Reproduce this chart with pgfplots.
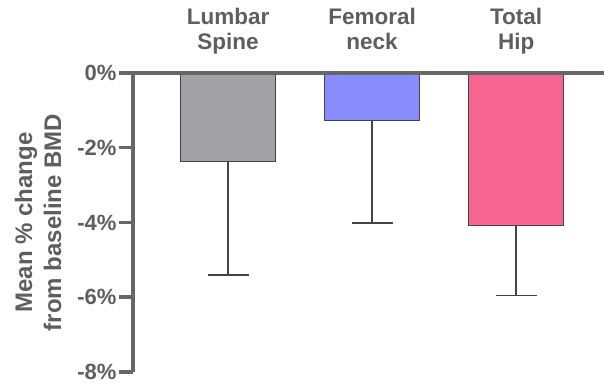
\documentclass[border=0pt]{standalone}
\usepackage{pgfplots}
\pgfplotsset{compat=1.18}
\usepackage{fontspec}
\setmainfont{Liberation Sans}
\definecolor{axgray}{HTML}{676767}
\definecolor{txtgray}{HTML}{5E5E5E}
\definecolor{edgegray}{HTML}{444444}
\definecolor{bargray}{HTML}{A2A1A6}
\definecolor{barblue}{HTML}{8A8BFF}
\definecolor{barpink}{HTML}{F96592}
\begin{document}
\begin{tikzpicture}
\begin{axis}[
  scale only axis, width=471pt, height=299pt,
  xmin=0.34, xmax=3.61, ymin=-8, ymax=0,
  axis x line=top, axis y line=left,
  axis line style={-, line width=4pt, draw=axgray},
  axis on top,
  xtick={1,2,3},
  xticklabels={{Lumbar\\Spine\strut},{Femoral\\neck\strut},{Total\\Hip\strut}},
  x tick style={draw=none},
  xticklabel style={align=center, font=\bfseries\fontsize{22.5}{25}\selectfont, text=txtgray, yshift=-2pt},
  ytick={-8,-6,-4,-2,0},
  yticklabels={-8\%,-6\%,-4\%,-2\%,0\%},
  yticklabel style={font=\bfseries\fontsize{22}{25}\selectfont, text=txtgray, xshift=1pt},
  tick align=outside, major tick length=14pt,
  y tick style={line width=3.5pt, draw=axgray},
  ylabel={Mean \% change\\from baseline BMD},
  ylabel style={align=center, font=\bfseries\fontsize{24}{29}\selectfont, text=txtgray, yshift=9pt},
  bar shift=0pt, bar width=95pt,
]
\addplot[ybar, fill=bargray, draw=edgegray, line width=1.2pt,
  error bars/.cd, y dir=minus, y explicit,
  error bar style={line width=1.4pt, draw=edgegray},
  error mark options={mark size=20.5pt, line width=1.4pt, draw=edgegray, rotate=90}]
  coordinates {(1,-2.36) -= (0,3.04)};
\addplot[ybar, fill=barblue, draw=edgegray, line width=1.2pt,
  error bars/.cd, y dir=minus, y explicit,
  error bar style={line width=1.4pt, draw=edgegray},
  error mark options={mark size=20.5pt, line width=1.4pt, draw=edgegray, rotate=90}]
  coordinates {(2,-1.28) -= (0,2.73)};
\addplot[ybar, fill=barpink, draw=edgegray, line width=1.2pt,
  error bars/.cd, y dir=minus, y explicit,
  error bar style={line width=1.4pt, draw=edgegray},
  error mark options={mark size=20.5pt, line width=1.4pt, draw=edgegray, rotate=90}]
  coordinates {(3,-4.07) -= (0,1.88)};
\end{axis}
\pgfresetboundingbox
\path ([shift={(-133pt,-13pt)}]current axis.south west) rectangle ([shift={(0pt,73pt)}]current axis.north east);
\end{tikzpicture}
\end{document}
